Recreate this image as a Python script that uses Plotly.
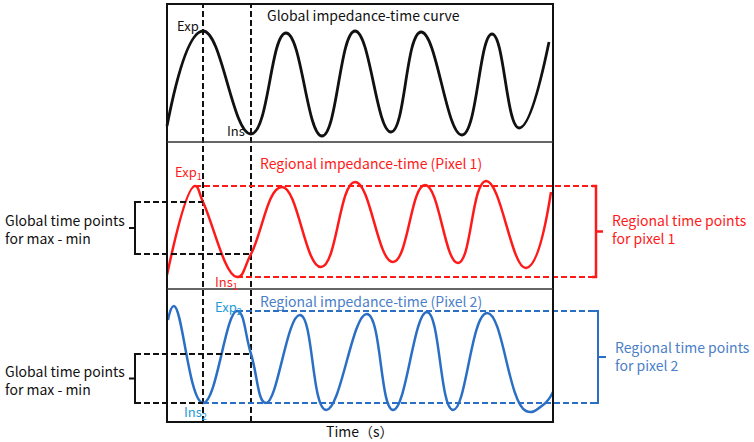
import plotly.graph_objects as go

# time (s) across the frame, impedance in panel-local units
global_t = [0.0, 3.6, 8.4, 11.9, 15.5, 18.8, 22.4, 25.4, 29.5, 32.5, 35.2, 38.2]
global_z = [1.6, 11.1, 0.8, 10.9, 0.6, 11.1, 1.0, 11.0, 0.7, 10.8, 1.4, 10.0]

pix1_t = [0.0, 2.8, 3.6, 7.0, 8.4, 11.5, 15.4, 18.8, 22.6, 25.8, 29.1, 31.9, 35.9, 38.4]
pix1_z = [1.4, 10.3, 8.7, 1.2, 3.5, 10.2, 2.2, 10.7, 2.7, 10.4, 2.6, 10.8, 2.1, 9.7]

pix2_t = [0.1, 0.7, 3.6, 7.0, 8.4, 9.9, 13.3, 15.9, 20.0, 22.6, 26.0, 28.6, 32.0, 35.9, 37.6, 38.6]
pix2_z = [10.2, 11.6, 1.9, 11.1, 6.8, 1.9, 10.7, 1.2, 10.8, 1.2, 11.0, 1.2, 10.9, 1.1, 1.7, 3.0]

# index of the Exp / Ins points in each series
g_exp, g_ins = 1, 2
p1_exp, p1_ins = 1, 3
p2_exp, p2_ins = 3, 2
p1_at_global = (2, 4)   # pixel 1 values at global Exp / Ins times
p2_at_global = (2, 4)

# panel baselines on the shared y scale
off_g, off_1, off_2 = 30.0, 15.3, 2.0
frame_x = (0.0, 38.6)
frame_y = (2.0, 43.8)

BLACK = "#111111"
RED = "#ff1a1a"
BLUE = "#2b6fc4"
BLUE_TXT = "#4a80c8"
CYAN = "#1b9ad6"
FONT = "Noto Sans CJK SC"

fig = go.Figure()


def curve(t, z, off, color, width):
    fig.add_trace(go.Scatter(x=t, y=[v + off for v in z], mode="lines",
                             line=dict(color=color, width=width, shape="spline", smoothing=1.3),
                             hoverinfo="skip"))


def seg(xs, ys, color, dash=None, width=2):
    fig.add_trace(go.Scatter(x=xs, y=ys, mode="lines",
                             line=dict(color=color, width=width, dash=dash),
                             hoverinfo="skip"))


def text(x, y, s, color, size=14, anchor="left"):
    fig.add_annotation(x=x, y=y, text=s, showarrow=False, xanchor=anchor, yanchor="middle",
                       align="left", font=dict(family=FONT, size=size, color=color))


# frame and panel dividers
fig.add_shape(type="rect", x0=frame_x[0], x1=frame_x[1], y0=frame_y[0], y1=frame_y[1],
              line=dict(color=BLACK, width=2))
for yy in (off_g, off_1):
    fig.add_shape(type="line", x0=frame_x[0], x1=frame_x[1], y0=yy, y1=yy,
                  line=dict(color="#333333", width=1.5))

# global time points
exp_time = global_t[g_exp]
ins_time = global_t[g_ins]
for tt in (exp_time, ins_time):
    seg([tt, tt], [frame_y[0], frame_y[1]], BLACK, dash="6px,3px", width=2)

curve(global_t, global_z, off_g, BLACK, 2.8)
curve(pix1_t, pix1_z, off_1, RED, 2.5)
curve(pix2_t, pix2_z, off_2, BLUE, 2.5)

# regional max/min references (right brackets)
br_red, br_blue = 42.9, 43.1
r_top = pix1_z[p1_exp] + off_1
r_bot = pix1_z[p1_ins] + off_1
seg([pix1_t[p1_exp], br_red], [r_top, r_top], RED, dash="6px,3px")
seg([pix1_t[p1_ins], br_red], [r_bot, r_bot], RED, dash="6px,3px")
seg([br_red - 0.4, br_red, br_red, br_red + 0.7, br_red, br_red, br_red - 0.4],
    [r_top, r_top, (r_top + r_bot) / 2, (r_top + r_bot) / 2, (r_top + r_bot) / 2, r_bot, r_bot],
    RED, width=2.5)

b_top = pix2_z[p2_exp] + off_2
b_bot = pix2_z[p2_ins] + off_2
seg([pix2_t[p2_exp], br_blue], [b_top, b_top], BLUE, dash="6px,3px")
seg([pix2_t[p2_ins], br_blue], [b_bot, b_bot], BLUE, dash="6px,3px")
seg([br_blue - 0.4, br_blue, br_blue, br_blue + 0.8, br_blue, br_blue, br_blue - 0.4],
    [b_top, b_top, (b_top + b_bot) / 2, (b_top + b_bot) / 2, (b_top + b_bot) / 2, b_bot, b_bot],
    BLUE, width=2)

# global time points for max - min (left brackets)
br_left = -3.2
for t_series, z_series, idx, off in ((pix1_t, pix1_z, p1_at_global, off_1),
                                     (pix2_t, pix2_z, p2_at_global, off_2)):
    y_exp = z_series[idx[0]] + off
    y_ins = z_series[idx[1]] + off
    seg([br_left, t_series[idx[0]]], [y_exp, y_exp], BLACK, dash="6px,3px")
    seg([br_left, t_series[idx[1]]], [y_ins, y_ins], BLACK, dash="6px,3px")
    mid = (y_exp + y_ins) / 2
    seg([br_left + 0.6, br_left, br_left, br_left - 0.6, br_left, br_left, br_left + 0.6],
        [y_exp, y_exp, mid, mid, mid, y_ins, y_ins], BLACK, width=2)
    text(-16.4, mid - 0.1, "Global time points<br>for max - min", BLACK)

# labels
text(0.8, 41.7, "Exp", BLACK, 13)
text(5.8, 31.2, "Ins", BLACK, 13)
text(9.8, 42.7, "Global impedance-time curve", BLACK)
text(0.6, 27.0, "Exp<sub>1</sub>", RED, 13)
text(4.6, 16.0, "Ins<sub>1</sub>", RED, 13)
text(9.1, 27.9, "Regional impedance-time (Pixel 1)", RED)
text(4.6, 13.5, "Exp<sub>2</sub>", CYAN, 13)
text(1.5, 3.0, "Ins<sub>2</sub>", CYAN, 13)
text(9.1, 14.1, "Regional impedance-time (Pixel 2)", BLUE_TXT)
text(44.3, 21.3, "Regional time points<br>for pixel 1", RED)
text(44.6, 8.6, "Regional time points<br>for pixel 2", BLUE_TXT)
text(19.3, 1.1, "Time（s）", BLACK, 14, anchor="center")

fig.update_layout(
    width=754, height=442, margin=dict(l=0, r=0, t=0, b=0),
    paper_bgcolor="white", plot_bgcolor="white", showlegend=False,
    xaxis=dict(range=[-16.7, 58.7], visible=False, fixedrange=True),
    yaxis=dict(range=[0, 44.2], visible=False, fixedrange=True),
)

fig.write_html("out.html", config={"displayModeBar": False},
               post_script="document.body.style.margin='0';")
